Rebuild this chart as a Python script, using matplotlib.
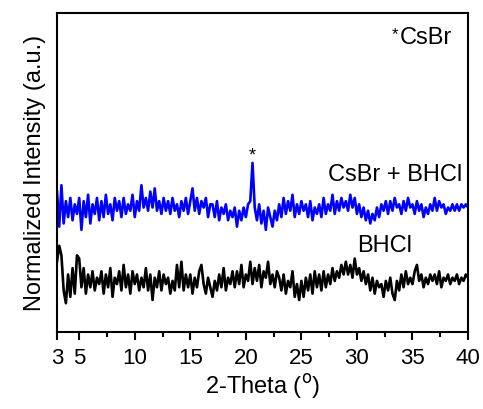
import numpy as np
import matplotlib
matplotlib.use("Agg")
import matplotlib.pyplot as plt

plt.rcParams['font.family'] = ['Liberation Sans', 'DejaVu Sans']

# 2-Theta from 3 to 40 deg, 0.2 deg step
theta_start, theta_end = 3.0, 40.0

# CsBr + BHCl (blue), offset already included
mix = [44, 33, 46, 34, 41, 36, 42, 35, 40, 37,
       42, 32, 41, 36, 43, 34, 40, 37, 42, 35,
       41, 36, 43, 37, 40, 35, 42, 38, 41, 36,
       42, 37, 40, 38, 43, 36, 41, 38, 46, 39,
       42, 38, 44, 39, 45, 38, 41, 37, 42, 38,
       41, 37, 42, 38, 40, 36, 41, 38, 42, 37,
       41, 45, 38, 42, 37, 41, 39, 42, 36, 40,
       40, 36, 41, 35, 39, 37, 40, 35, 38, 36,
       39, 33, 38, 35, 39, 36, 40, 41, 53, 39,
       35, 40, 34, 38, 32, 39, 36, 33, 38, 35,
       40, 36, 42, 37, 41, 38, 43, 36, 40, 37,
       41, 38, 40, 36, 41, 35, 39, 37, 40, 36,
       42, 37, 40, 38, 43, 37, 41, 38, 42, 39,
       41, 38, 43, 39, 42, 37, 40, 36, 39, 35,
       38, 34, 37, 35, 39, 36, 40, 38, 41, 37,
       41, 38, 42, 39, 40, 37, 41, 38, 42, 39,
       40, 37, 41, 38, 40, 36, 39, 37, 40, 38,
       42, 38, 41, 39, 40, 37, 39, 38, 40, 38,
       40, 38, 40, 39, 40, 39]

# BHCl (black)
bhcl = [22, 27, 24, 13, 9, 18, 11, 20, 12, 24,
        23, 14, 20, 12, 18, 14, 19, 13, 17, 15,
        19, 12, 18, 14, 20, 11, 17, 15, 19, 13,
        21, 14, 18, 12, 19, 15, 18, 13, 17, 14,
        20, 13, 18, 10, 17, 14, 19, 13, 18, 15,
        17, 12, 16, 13, 21, 14, 22, 13, 18, 14,
        18, 12, 17, 14, 19, 21, 15, 12, 17, 14,
        11, 16, 13, 18, 14, 20, 13, 17, 15, 19,
        14, 19, 15, 21, 14, 18, 16, 22, 15, 20,
        16, 21, 14, 19, 17, 22, 15, 18, 14, 19,
        17, 13, 18, 12, 16, 14, 19, 11, 15, 10,
        16, 11, 17, 13, 18, 12, 19, 14, 18, 13,
        19, 14, 18, 15, 20, 16, 19, 17, 21, 18,
        22, 18, 21, 17, 23, 18, 20, 16, 19, 15,
        18, 13, 17, 12, 16, 14, 15, 11, 16, 13,
        17, 12, 10, 16, 13, 18, 14, 19, 15, 17,
        15, 19, 21, 16, 18, 14, 17, 15, 18, 16,
        18, 15, 19, 14, 17, 16, 18, 15, 17, 16,
        18, 15, 17, 16, 18, 17]

peak_pos = 20.6
peak_mark = 55.5

x_mix = np.linspace(theta_start, theta_end, len(mix))
x_bhcl = np.linspace(theta_start, theta_end, len(bhcl))

fig = plt.figure(figsize=(4.83, 4.10), dpi=100)
ax = fig.add_axes([0.118, 0.188, 0.851, 0.778])

ax.plot(x_mix, mix, color='#0000ff', lw=1.9)
ax.plot(x_bhcl, bhcl, color='black', lw=1.9)

ax.text(peak_pos, peak_mark, '*', fontsize=13, ha='center', va='center')
ax.text(0.962, 0.925, 'CsBr', transform=ax.transAxes, fontsize=17,
        ha='right', va='center')
ax.text(0.823, 0.935, '*', transform=ax.transAxes, fontsize=12,
        ha='center', va='center')
ax.text(0.985, 0.495, 'CsBr + BHCl', transform=ax.transAxes, fontsize=17,
        ha='right', va='center')
ax.text(0.865, 0.272, 'BHCl', transform=ax.transAxes, fontsize=17,
        ha='right', va='center')

ax.set_xlim(theta_start, theta_end)
ax.set_ylim(0, 100)
ax.set_xticks([3, 5, 10, 15, 20, 25, 30, 35, 40])
ax.set_xticks([7.5, 12.5, 17.5, 22.5, 27.5, 32.5, 37.5], minor=True)
ax.set_yticks([])
ax.tick_params(axis='x', which='major', direction='out', length=6, width=1.5,
               labelsize=16, pad=5)
ax.tick_params(axis='x', which='minor', direction='out', length=3.5, width=1.5)
for s in ax.spines.values():
    s.set_linewidth(1.5)

ax.set_xlabel('2-Theta ($^{\\rm o}$)', fontsize=17, labelpad=2)
ax.set_ylabel('Normalized Intensity (a.u.)', fontsize=17, labelpad=8)

fig.savefig('out.png', dpi=100)
